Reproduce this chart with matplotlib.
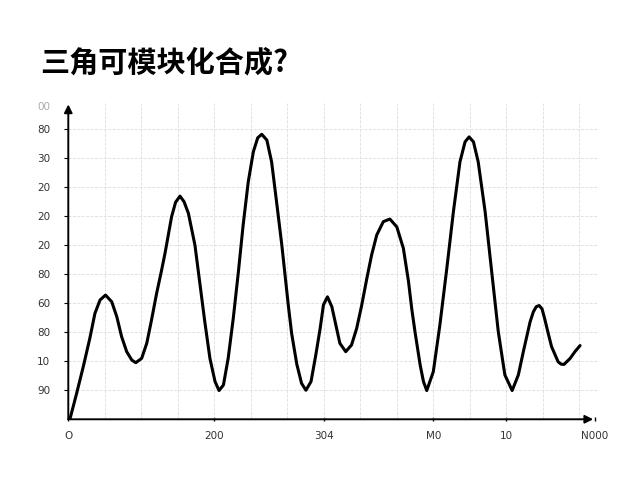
import numpy as np
import matplotlib.pyplot as plt

# Dados (unidades de grade)
x_pts = [0.05, 0.23, 0.41, 0.59, 0.73, 0.87, 1.02, 1.19, 1.33, 1.46,
         1.60, 1.74, 1.85, 2.01, 2.15, 2.28, 2.42, 2.55, 2.65, 2.83,
         2.94, 3.06, 3.17, 3.29, 3.47, 3.61, 3.74, 3.88, 4.02, 4.13,
         4.25, 4.38, 4.52, 4.66, 4.79, 4.93, 5.07, 5.19, 5.30, 5.44,
         5.57, 5.71, 5.85, 5.94, 6.03, 6.12, 6.26, 6.39, 6.51, 6.65,
         6.78, 6.90, 6.99, 7.10, 7.22, 7.33, 7.44, 7.60, 7.76, 7.90,
         8.04, 8.18, 8.31, 8.45, 8.63, 8.81, 9.00, 9.18, 9.32, 9.41,
         9.50, 9.64, 9.73, 9.82, 10.00, 10.18, 10.37, 10.55, 10.73, 10.87,
         10.98, 11.10, 11.23, 11.42, 11.60, 11.78, 11.96, 12.16, 12.33, 12.47,
         12.56, 12.65, 12.74, 12.82, 12.90, 12.98, 13.06, 13.15, 13.24, 13.42,
         13.50, 13.58, 13.75, 13.88, 14.02]
y_pts = [0.03, 0.90, 1.81, 2.79, 3.65, 4.11, 4.28, 4.05, 3.53, 2.85,
         2.33, 2.04, 1.95, 2.10, 2.62, 3.42, 4.34, 5.10, 5.72, 6.98,
         7.48, 7.69, 7.50, 7.10, 6.00, 4.63, 3.36, 2.10, 1.30, 0.99,
         1.18, 2.10, 3.48, 5.08, 6.69, 8.18, 9.22, 9.70, 9.82, 9.62,
         8.87, 7.45, 6.00, 4.95, 3.90, 2.95, 1.90, 1.24, 1.00, 1.30,
         2.21, 3.13, 3.94, 4.22, 3.88, 3.25, 2.62, 2.33, 2.56, 3.13,
         3.94, 4.86, 5.66, 6.35, 6.81, 6.90, 6.63, 5.89, 4.75, 3.80,
         3.00, 1.87, 1.30, 0.99, 1.64, 3.25, 5.20, 7.15, 8.87, 9.56,
         9.73, 9.56, 8.87, 7.15, 5.08, 3.02, 1.53, 0.99, 1.53, 2.35,
         2.85, 3.35, 3.70, 3.88, 3.92, 3.80, 3.42, 2.95, 2.50, 1.98,
         1.90, 1.89, 2.10, 2.33, 2.54]

x_ticks = [0, 4, 7, 10, 12, 14.43]
x_labels = ['O', '200', '304', 'M0', '10', 'N000']
y_ticks = [1, 2, 3, 4, 5, 6, 7, 8, 9, 10, 10.8]
y_labels = ['90', '10', '80', '60', '80', '20', '20', '20', '30', '80', '00']

titulo = '三角可模块化合成?'

fig = plt.figure(figsize=(6.4, 4.8), dpi=100)
ax = fig.add_axes([0.1067, 0.1265, 0.827, 0.659])
ax.set_xlim(0, 14.5)
ax.set_ylim(0, 10.9)

ax.plot(x_pts, y_pts, color='black', linewidth=2.2, solid_capstyle='round',
        solid_joinstyle='round', zorder=3)

# eixos com setas
for s in ax.spines.values():
    s.set_visible(False)
ax.annotate('', xy=(14.38, 0), xytext=(0, 0),
            arrowprops=dict(arrowstyle='-|>', color='black', lw=1.4,
                            mutation_scale=12, shrinkA=0, shrinkB=0),
            annotation_clip=False, zorder=4)
ax.annotate('', xy=(0, 10.85), xytext=(0, 0),
            arrowprops=dict(arrowstyle='-|>', color='black', lw=1.4,
                            mutation_scale=12, shrinkA=0, shrinkB=0),
            annotation_clip=False, zorder=4)

# grade
ax.xaxis.remove_overlapping_locs = False
ax.yaxis.remove_overlapping_locs = False
ax.set_xticks(np.arange(1, 15), minor=True)
ax.set_yticks(np.arange(1, 11), minor=True)
ax.grid(which='minor', color='#dddddd', linestyle='--', linewidth=0.6)
ax.tick_params(which='minor', length=0)

ax.set_xticks(x_ticks)
ax.set_xticklabels(x_labels)
ax.set_yticks(y_ticks)
ax.set_yticklabels(y_labels)
ax.tick_params(axis='x', which='major', length=3, width=1, direction='inout',
               pad=7, labelsize=7.5, labelcolor='#333333')
ax.tick_params(axis='y', which='major', length=3, width=0.8, direction='out',
               pad=10, labelsize=7.5, labelcolor='#333333')
ax.get_yticklabels()[-1].set_color('#aaaaaa')
ax.yaxis.get_major_ticks()[-1].tick1line.set_visible(False)

fig.text(0.0625, 0.870, titulo, fontsize=21, fontweight='bold',
         family=['Noto Sans CJK SC', 'DejaVu Sans'], va='center', ha='left')

fig.savefig('out.png', dpi=100, facecolor='white')
